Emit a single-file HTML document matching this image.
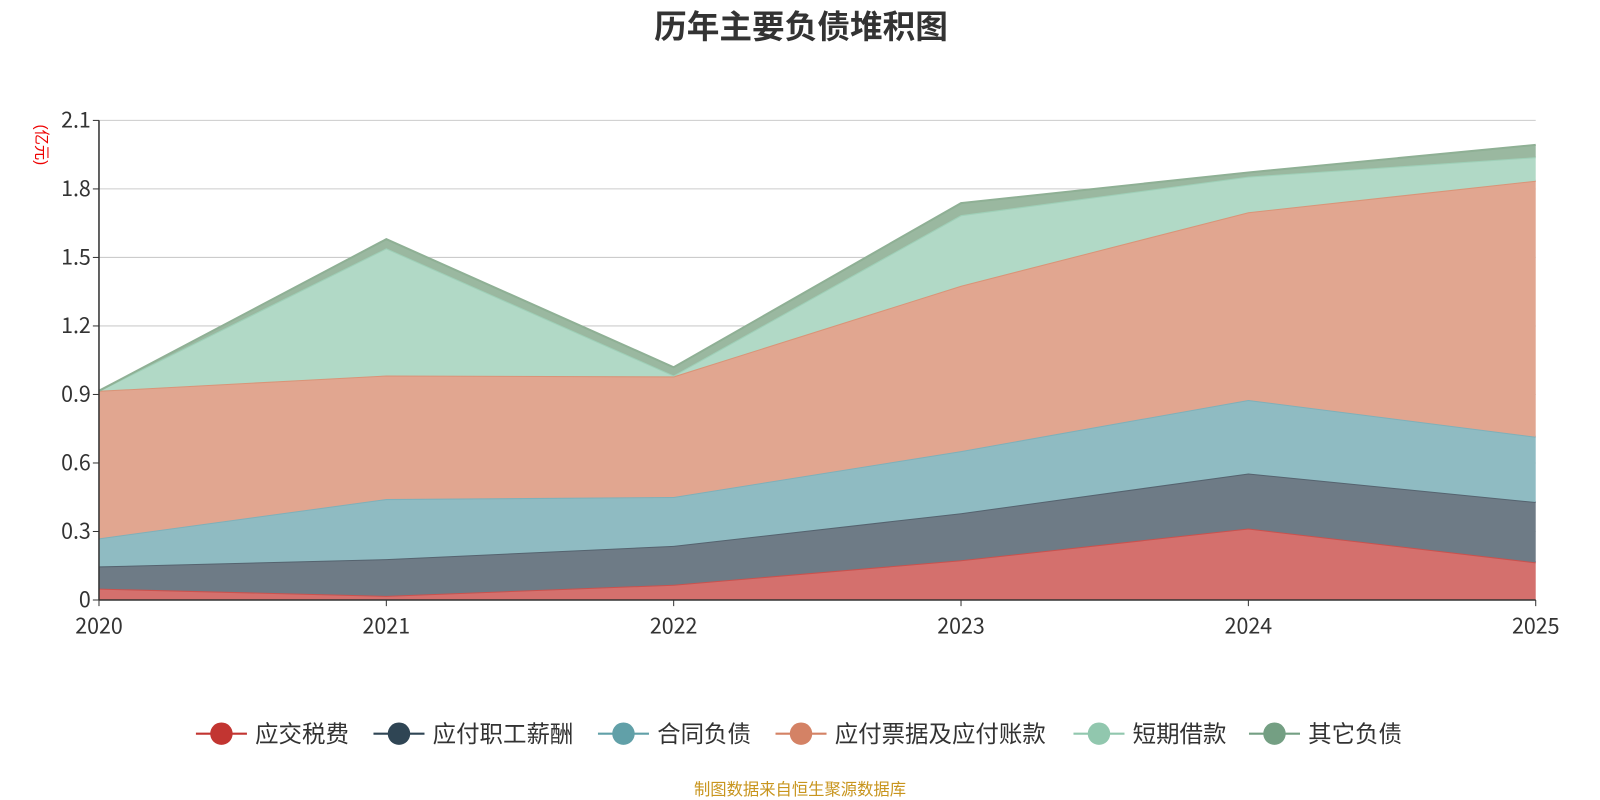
<!DOCTYPE html>
<html><head><meta charset="utf-8">
<style>
body{margin:0;background:#fff;width:1600px;height:800px;overflow:hidden;font-family:"Liberation Sans","Noto Sans CJK SC",sans-serif;}
svg{display:block}
.num{font-family:"Noto Sans CJK SC","Liberation Sans",sans-serif;}
</style></head>
<body>
<svg id="chart" width="1600" height="800" viewBox="0 0 1568 784"></svg>
<script>
const categories=['2020','2021','2022','2023','2024','2025'];
const seriesNames=['应交税费','应付职工薪酬','合同负债','应付票据及应付账款','短期借款','其它负债'];
const taxValues=[0.05,0.018,0.067,0.174,0.313,0.165];
const payrollValues=[0.097,0.161,0.17,0.206,0.241,0.264];
const contractValues=[0.123,0.263,0.214,0.272,0.322,0.286];
const payableValues=[0.646,0.541,0.528,0.724,0.822,1.121];
const shortLoanValues=[0,0.557,0.004,0.309,0.156,0.103];
const otherValues=[0,0.04,0.036,0.053,0.018,0.054];
const yTicks=['0','0.3','0.6','0.9','1.2','1.5','1.8','2.1'];
const allSeries=[taxValues,payrollValues,contractValues,payableValues,shortLoanValues,otherValues];
const fills=['#d4706d','#6e7b86','#8fbbc2','#e1a690','#b1d9c6','#9ab8a0'];
const lines=['#c9524e','#55636f','#7fb0b9','#d99478','#9fd0b8','#8fb095'];
const legendColors=['#c23531','#2f4554','#61a0a8','#d48265','#91c7ae','#749f83'];
const NS='http://www.w3.org/2000/svg';
const svg=document.getElementById('chart');
const x0=97,x1=1505,yb=588,yt=118,ymax=2.1;
const xs=i=>x0+(x1-x0)*i/(categories.length-1);
const ys=v=>yb-(yb-yt)*v/ymax;
function mk(t,a,p){const e=document.createElementNS(NS,t);for(const k in a)e.setAttribute(k,a[k]);(p||svg).appendChild(e);return e;}
let t=mk('text',{x:785,y:37,'text-anchor':'middle','font-size':32,'font-weight':'bold',fill:'#333'});t.textContent='历年主要负债堆积图';


yTicks.forEach(s=>{const v=parseFloat(s);const y=ys(v);
 const g=mk('line',{x1:x0,x2:x1,y1:y,y2:y,stroke:'#ccc','stroke-width':1});
 
 
 const l=mk('text',{x:x0-8,y:y+7,'text-anchor':'end','font-size':21,fill:'#333','class':'num'});l.textContent=s;
 
 
});
let u=mk('text',{x:36,y:142,'text-anchor':'middle','font-size':15,fill:'#e00',transform:'rotate(90 36 142)'});u.textContent='(亿元)';


let base=categories.map(()=>0);
allSeries.forEach((vals,si)=>{
 const top=base.map((b,i)=>b+vals[i]);
 let d='M'+top.map((v,i)=>xs(i)+','+ys(v)).join(' L');
 for(let i=categories.length-1;i>=0;i--)d+=' L'+xs(i)+','+ys(base[i]);
 const a=mk('path',{d:d+'Z',fill:fills[si]});
 
 
 const ln=mk('polyline',{points:top.map((v,i)=>xs(i)+','+ys(v)).join(' '),fill:'none',stroke:lines[si],'stroke-width':2});
 
 
 base=top;
});
let ax=mk('line',{x1:x0,x2:x1,y1:yb,y2:yb,stroke:'#333','stroke-width':1.5});


let ay=mk('line',{x1:x0,x2:x0,y1:yt,y2:yb,stroke:'#333','stroke-width':1.5});


yTicks.forEach(s=>{const y=ys(parseFloat(s));const tk=mk('line',{x1:x0-6,x2:x0,y1:y,y2:y,stroke:'#333'});
 
 });
categories.forEach((c,i)=>{
 const tk=mk('line',{x1:xs(i),x2:xs(i),y1:yb,y2:yb+6,stroke:'#333'});
 
 
 const l=mk('text',{x:xs(i),y:621,'text-anchor':'middle','font-size':21,fill:'#333','class':'num'});l.textContent=c;
 
 
});
const lx=[192,366,586,760,1052,1224];
seriesNames.forEach((n,i)=>{
 const g=mk('g',{});
 
 
 mk('line',{x1:lx[i],x2:lx[i]+50,y1:719,y2:719,stroke:legendColors[i],'stroke-width':2},g);
 mk('circle',{cx:lx[i]+25,cy:719,r:11,fill:legendColors[i]},g);
 const tx=mk('text',{x:lx[i]+58,y:727,'font-size':23,fill:'#333'},g);tx.textContent=n;
});
let f=mk('text',{x:784,y:779,'text-anchor':'middle','font-size':16,fill:'#c8951e'});f.textContent='制图数据来自恒生聚源数据库';


</script>
</body></html>
